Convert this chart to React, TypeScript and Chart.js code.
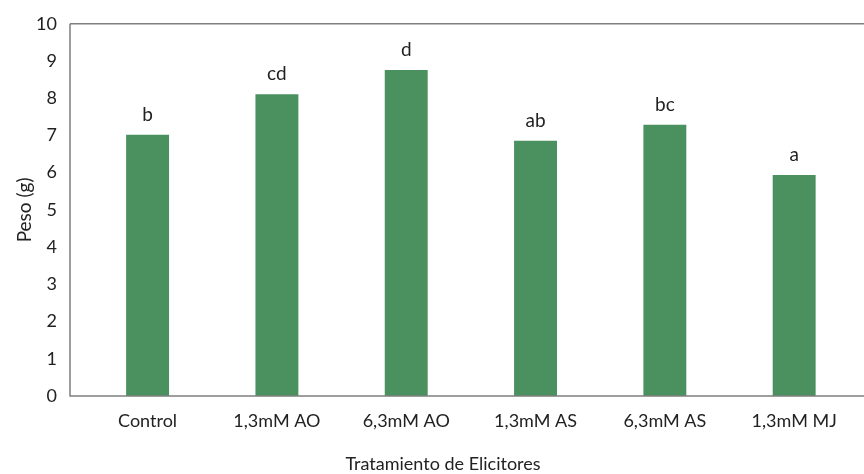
import React, { useEffect, useRef } from "react";
import { Chart, registerables } from "chart.js";

Chart.register(...registerables);

const categories = ["Control", "1,3mM AO", "6,3mM AO", "1,3mM AS", "6,3mM AS", "1,3mM MJ"];
const pesoValues = [7.02, 8.11, 8.76, 6.86, 7.29, 5.94];
const letters = ["b", "cd", "d", "ab", "bc", "a"];
const yTicks = [0, 1, 2, 3, 4, 5, 6, 7, 8, 9, 10];
const xTitle = "Tratamiento de Elicitores";

const FONT = "Lato";
const TEXT = "#222222";
const AXIS = "#7f7f7f";
const BAR = "#4a915f";

const framePlugin = {
  id: "frame",
  afterDraw(chart: any) {
    const { ctx, chartArea } = chart;
    ctx.save();
    ctx.strokeStyle = AXIS;
    ctx.lineWidth = 1.5;
    ctx.beginPath();
    ctx.moveTo(chartArea.left, chartArea.top);
    ctx.lineTo(chartArea.right, chartArea.top);
    ctx.moveTo(chartArea.left, chartArea.top);
    ctx.lineTo(chartArea.left, chartArea.bottom);
    ctx.lineTo(chartArea.right, chartArea.bottom);
    ctx.stroke();
    ctx.fillStyle = TEXT;
    ctx.font = `18px ${FONT}`;
    ctx.textAlign = "center";
    ctx.textBaseline = "middle";
    ctx.fillText(xTitle, chartArea.left + 373, chart.height - 10);
    ctx.restore();
  },
};

const lettersPlugin = {
  id: "letters",
  afterDatasetsDraw(chart: any) {
    const { ctx } = chart;
    const meta = chart.getDatasetMeta(0);
    ctx.save();
    ctx.fillStyle = TEXT;
    ctx.font = `19px ${FONT}`;
    ctx.textAlign = "center";
    ctx.textBaseline = "alphabetic";
    meta.data.forEach((bar: any, i: number) => {
      ctx.fillText(letters[i], bar.x, bar.y - 14);
    });
    ctx.restore();
  },
};

export default function App() {
  const ref = useRef<HTMLCanvasElement>(null);
  useEffect(() => {
    const chart = new Chart(ref.current as HTMLCanvasElement, {
      type: "bar",
      data: {
        datasets: [
          {
            data: pesoValues.map((v, i) => ({ x: i, y: v })),
            backgroundColor: BAR,
            borderWidth: 0,
            categoryPercentage: 1,
            barPercentage: 0.332,
          },
        ],
      },
      options: {
        responsive: false,
        animation: false,
        layout: { padding: { top: 21, right: 0, left: 0, bottom: 0 } },
        plugins: { legend: { display: false }, tooltip: { enabled: false } },
        scales: {
          x: {
            type: "linear",
            offset: false,
            min: -0.6,
            max: 5.54,
            grid: { display: false, drawTicks: false },
            border: { display: false },
            afterBuildTicks: (scale: any) => {
              scale.ticks = categories.map((_, i) => ({ value: i }));
            },
            afterFit: (scale: any) => {
              scale.height = 78;
            },
            ticks: {
              autoSkip: false,
              maxRotation: 0,
              padding: 14,
              color: TEXT,
              font: { family: FONT, size: 18 },
              callback: (v: any) => categories[v] ?? "",
            },
            title: { display: false },
          },
          y: {
            min: 0,
            max: 10,
            grid: { display: false, drawTicks: false },
            border: { display: false },
            afterBuildTicks: (scale: any) => {
              scale.ticks = yTicks.map((v) => ({ value: v }));
            },
            afterFit: (scale: any) => {
              scale.width = 70;
            },
            ticks: {
              padding: 13,
              color: TEXT,
              font: { family: FONT, size: 18 },
            },
            title: {
              display: true,
              text: "Peso (g)",
              color: TEXT,
              font: { family: FONT, size: 19 },
              padding: { top: 13, bottom: 0 },
            },
          },
        },
      },
      plugins: [lettersPlugin, framePlugin],
    } as any);
    return () => chart.destroy();
  }, []);
  return (
    <div style={{ position: "absolute", left: 0, top: 0, width: 864, height: 474 }}>
      <canvas ref={ref} width={864} height={474} />
    </div>
  );
}
